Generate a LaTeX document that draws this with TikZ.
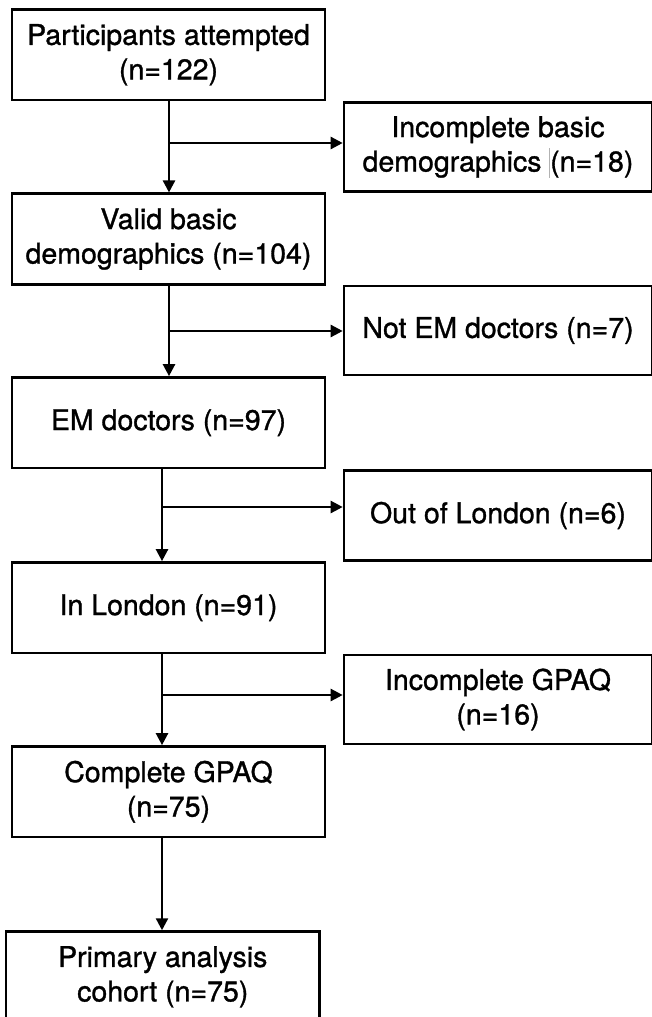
\documentclass[tikz,border=0pt]{standalone}
\usepackage{fontspec}
\setmainfont[FakeBold=1.1]{TeX Gyre Heros}
\usetikzlibrary{arrows.meta,calc}
\begin{document}
\begin{tikzpicture}[x=1pt,y=-1pt,
  box/.style={draw=black,line width=2.6pt,align=center,inner sep=0pt,
    font=\fontsize{28.5}{34.5}\selectfont,text=black},
  mainbox/.style={box,minimum width=313pt,minimum height=90.5pt},
  sidebox/.style={box,minimum width=308pt,minimum height=89pt},
  arr/.style={line width=2.4pt,-{Triangle[length=12pt,width=12pt]}}]
\useasboundingbox (0,0) rectangle (651,1017);
% main column
\node[mainbox] (b1) at (168.5,54.75) {Participants attempted\\(n=122)};
\node[mainbox] (b2) at (168.5,239) {Valid basic\\demographics (n=104)};
\node[mainbox] (b3) at (168.5,422.7) {EM doctors (n=97)};
\node[mainbox] (b4) at (168.5,607.7) {In London (n=91)};
\node[mainbox] (b5) at (168.5,791.7) {Complete GPAQ\\(n=75)};
\node[mainbox,minimum width=313.5pt] (b6) at (162.75,976.8) {Primary analysis\\cohort (n=75)};
% side column
\node[sidebox] (s1) at (498,147) {Incomplete basic\\demographics \textcolor{gray!60}{\rule[-0.22em]{0.8pt}{1.05em}}(n=18)};
\node[sidebox] (s2) at (498,330.5) {Not EM doctors (n=7)};
\node[sidebox,minimum height=90.5pt] (s3) at (498,515.5) {Out of London (n=6)};
\node[sidebox] (s4) at (498,699.5) {Incomplete GPAQ\\(n=16)};
% branch points
\coordinate (j1) at (169,143);
\coordinate (j2) at (169,331);
\coordinate (j3) at (162,507);
\coordinate (j4) at (162,695);
\coordinate (j5) at (162,880);
% connectors
\draw[arr] (b1.south -| j1) -- (b2.north -| j1);
\draw[arr] (j1) -- (s1.west |- j1);
\draw[arr] (b2.south -| j2) -- (b3.north -| j2);
\draw[arr] (j2) -- (s2.west |- j2);
\draw[arr] (b3.south -| j3) -- (b4.north -| j3);
\draw[arr] (j3) -- (s3.west |- j3);
\draw[arr] (b4.south -| j4) -- (b5.north -| j4);
\draw[arr] (j4) -- (s4.west |- j4);
\draw[arr] (b5.south -| j5) -- (b6.north -| j5);
\end{tikzpicture}
\end{document}
